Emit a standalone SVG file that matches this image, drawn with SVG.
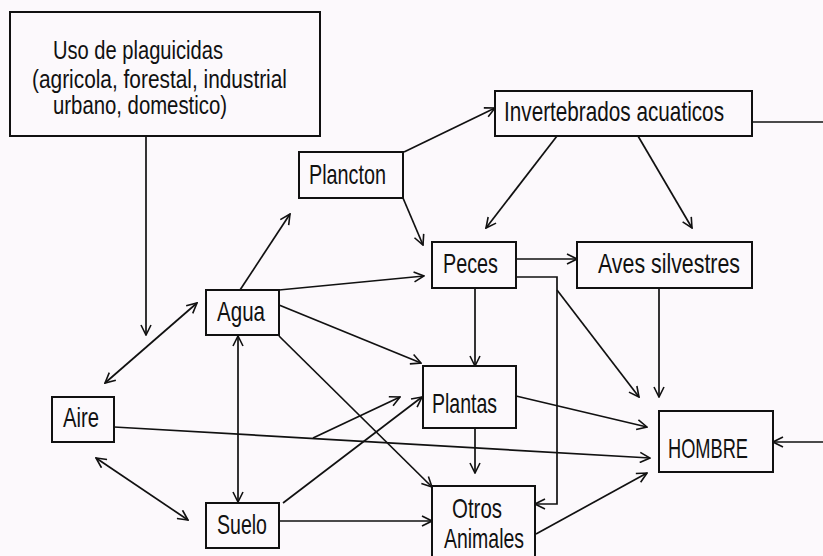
<svg xmlns="http://www.w3.org/2000/svg" width="823" height="556" viewBox="0 0 823 556">
<style>
.box{fill:none;stroke:#111;stroke-width:2}
.t{font-family:"Liberation Sans",Arial,sans-serif;font-size:28px;fill:#111}
.u{font-family:"Liberation Sans",Arial,sans-serif;font-size:25px;fill:#111}
.c{fill:none;stroke:#111;stroke-width:1.7}
.a{marker-end:url(#ah)}
.d{marker-end:url(#ah);marker-start:url(#ah)}
</style>
<defs>
<marker id="ah" viewBox="0 0 12 12" refX="11" refY="6" markerWidth="12" markerHeight="12" markerUnits="userSpaceOnUse" orient="auto-start-reverse">
<path d="M1,1 L11,6 L1,11" fill="none" stroke="#111" stroke-width="1.6"/>
</marker>
</defs>
<rect width="823" height="556" fill="#fcf9fc"/>
<g id="connectors">
<line class="c a" x1="146" y1="136" x2="146" y2="335"/>
<line class="c d" x1="197" y1="303" x2="105" y2="383"/>
<line class="c d" x1="96" y1="458" x2="188" y2="520"/>
<line class="c d" x1="238" y1="336" x2="238" y2="502"/>
<line class="c a" x1="240" y1="290" x2="290" y2="214"/>
<line class="c a" x1="279" y1="290" x2="424" y2="276"/>
<line class="c a" x1="279" y1="305" x2="421" y2="363"/>
<line class="c a" x1="279" y1="336" x2="432" y2="487"/>
<line class="c a" x1="114" y1="427" x2="650" y2="458"/>
<line class="c a" x1="313" y1="438" x2="400" y2="397"/>
<line class="c a" x1="283" y1="503" x2="422" y2="397"/>
<line class="c a" x1="279" y1="521" x2="432" y2="521"/>
<line class="c a" x1="404" y1="152" x2="495" y2="108"/>
<line class="c a" x1="403" y1="198" x2="423" y2="245"/>
<line class="c a" x1="557" y1="136" x2="486" y2="228"/>
<line class="c a" x1="638" y1="136" x2="692" y2="228"/>
<line class="c" x1="752" y1="122" x2="823" y2="122"/>
<line class="c a" x1="823" y1="442" x2="773" y2="442"/>
<line class="c a" x1="516" y1="259" x2="577" y2="259"/>
<polyline class="c a" points="516,277 557,277 557,504 535,504"/>
<line class="c a" x1="557" y1="290" x2="639" y2="397"/>
<line class="c a" x1="659" y1="288" x2="659" y2="397"/>
<line class="c a" x1="475" y1="288" x2="475" y2="366"/>
<line class="c a" x1="516" y1="396" x2="647" y2="427"/>
<line class="c a" x1="475" y1="428" x2="475" y2="473"/>
<line class="c a" x1="536" y1="534" x2="647" y2="473"/>
</g>
<g id="uso">
<rect class="box" x="10" y="12" width="310" height="124"/>
<text class="u" x="53" y="59" textLength="170" lengthAdjust="spacingAndGlyphs">Uso de plaguicidas</text>
<text class="u" x="32" y="88" textLength="255" lengthAdjust="spacingAndGlyphs">(agricola, forestal, industrial</text>
<text class="u" x="53" y="114" textLength="174" lengthAdjust="spacingAndGlyphs">urbano, domestico)</text>
</g>
<g id="plancton">
<rect class="box" x="299" y="152" width="104" height="46"/>
<text class="t" x="309" y="184" textLength="77" lengthAdjust="spacingAndGlyphs">Plancton</text>
</g>
<g id="invertebrados">
<rect class="box" x="495" y="91" width="257" height="45"/>
<text class="t" x="504" y="121" textLength="220" lengthAdjust="spacingAndGlyphs">Invertebrados acuaticos</text>
</g>
<g id="peces">
<rect class="box" x="432" y="242" width="84" height="46"/>
<text class="t" x="443" y="273" textLength="55" lengthAdjust="spacingAndGlyphs">Peces</text>
</g>
<g id="aves">
<rect class="box" x="577" y="242" width="175" height="46"/>
<text class="t" x="598" y="273" textLength="142" lengthAdjust="spacingAndGlyphs">Aves silvestres</text>
</g>
<g id="agua">
<rect class="box" x="206" y="290" width="73" height="45"/>
<text class="t" x="217" y="321" textLength="48" lengthAdjust="spacingAndGlyphs">Agua</text>
</g>
<g id="aire">
<rect class="box" x="52" y="397" width="62" height="45"/>
<text class="t" x="63" y="427" textLength="36" lengthAdjust="spacingAndGlyphs">Aire</text>
</g>
<g id="suelo">
<rect class="box" x="206" y="503" width="73" height="45"/>
<text class="t" x="217" y="534" textLength="50" lengthAdjust="spacingAndGlyphs">Suelo</text>
</g>
<g id="plantas">
<rect class="box" x="423" y="366" width="93" height="62"/>
<text class="t" x="432" y="413" textLength="65" lengthAdjust="spacingAndGlyphs">Plantas</text>
</g>
<g id="hombre">
<rect class="box" x="659" y="411" width="114" height="61"/>
<text class="t" x="668" y="458" textLength="80" lengthAdjust="spacingAndGlyphs">HOMBRE</text>
</g>
<g id="otros">
<rect class="box" x="432" y="486" width="103" height="74"/>
<text class="t" x="452" y="518" textLength="50" lengthAdjust="spacingAndGlyphs">Otros</text>
<text class="t" x="444" y="548" textLength="80" lengthAdjust="spacingAndGlyphs">Animales</text>
</g>
</svg>
